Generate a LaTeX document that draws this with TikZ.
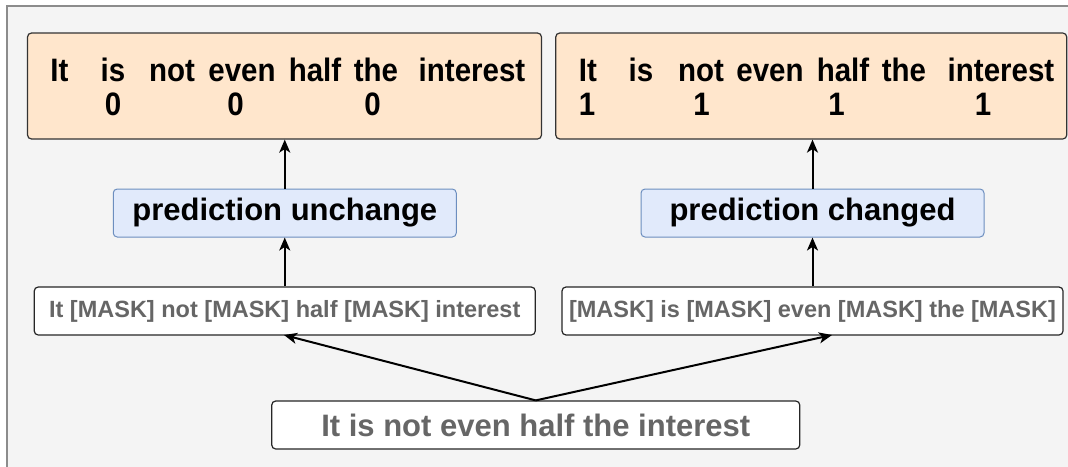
\documentclass[tikz,border=0pt]{standalone}
\usepackage{fontspec}
\setmainfont{Liberation Sans}
\usetikzlibrary{arrows.meta,calc}
\definecolor{bgfill}{HTML}{F4F4F4}
\definecolor{bgline}{HTML}{8C8C8C}
\definecolor{orfill}{HTML}{FFE6CC}
\definecolor{orline}{HTML}{333333}
\definecolor{blfill}{HTML}{E1EAFB}
\definecolor{blline}{HTML}{6C8EBF}
\definecolor{txgray}{HTML}{666666}
\tikzset{
  orbox/.style={draw=orline, fill=orfill, line width=1.2pt, rounded corners=4pt, minimum height=106pt, inner sep=0pt},
  blbox/.style={draw=blline, fill=blfill, line width=1pt, rounded corners=4pt, minimum width=343pt, minimum height=48pt, inner sep=0pt, font=\fontsize{31}{36}\selectfont\bfseries},
  mkbox/.style={draw=black!85, fill=white, line width=1.2pt, rounded corners=4pt, minimum width=501pt, minimum height=48pt, inner sep=0pt, text=txgray, font=\fontsize{23.5}{28}\selectfont\bfseries},
  btbox/.style={draw=black!85, fill=white, line width=1.2pt, rounded corners=4pt, minimum width=528pt, minimum height=48pt, inner sep=0pt, text=txgray, font=\fontsize{31}{36}\selectfont\bfseries},
  wd/.style={anchor=base, inner sep=0pt, transform shape, yscale=1.1, font=\fontsize{29.5}{34}\selectfont\bfseries},
  arr/.style={draw=black, line width=2pt, -{Stealth[length=13pt,width=11pt,inset=3.5pt]}}
}
\begin{document}
\begin{tikzpicture}[x=1pt,y=-1pt]
\useasboundingbox (0,0) rectangle (1068,466);
\fill[white] (0,0) rectangle (1068,466);
\path[fill=bgfill, draw=bgline, line width=1.5pt] (7,6) rectangle (1090,490);

% top boxes
\node[orbox, minimum width=514pt] (tl) at (284.5,86) {};
\node[orbox, minimum width=511pt] (tr) at (811.25,86) {};

% top-left words
\node[wd] (l1) at (59.5,81) {It};
\node[wd] (l2) at (113,81) {is};
\node[wd] (l3) at (172,81) {not};
\node[wd] (l4) at (242,81) {even};
\node[wd] (l5) at (315,81) {half};
\node[wd] (l6) at (376,81) {the};
\node[wd] (l7) at (472,81) {interest};
\node[wd] (l8) at (113,115.5) {0};
\node[wd] (l9) at (235.5,115.5) {0};
\node[wd] (l10) at (372.5,115.5) {0};

% top-right words
\node[wd] (r1) at (588,81) {It};
\node[wd] (r2) at (641,81) {is};
\node[wd] (r3) at (701,81) {not};
\node[wd] (r4) at (770,81) {even};
\node[wd] (r5) at (843,81) {half};
\node[wd] (r6) at (904,81) {the};
\node[wd] (r7) at (1001,81) {interest};
\node[wd] (r8) at (587,115.5) {1};
\node[wd] (r9) at (701.5,115.5) {1};
\node[wd] (r10) at (836.5,115.5) {1};
\node[wd] (r11) at (983,115.5) {1};

% prediction boxes
\node[blbox] (bl) at (284.75,213) {prediction unchange};
\node[blbox] (br) at (812.5,213) {prediction changed};

% masked boxes
\node[mkbox] (ml) at (284.75,311) {It [MASK] not [MASK] half [MASK] interest};
\node[mkbox] (mr) at (812.5,311) {[MASK] is [MASK] even [MASK] the [MASK]};

% bottom box
\node[btbox] (bt) at (535.75,425) {It is not even half the interest};

\coordinate (mltip) at (284,335);
\coordinate (mrtip) at (832,335);

% connectors
\draw[arr] (ml.north) -- (bl.south);
\draw[arr] (mr.north) -- (br.south);
\draw[arr] (bl.north) -- (bl.north |- tl.south);
\draw[arr] (br.north) -- (br.north |- tr.south);
\draw[arr] (bt.north) -- (mltip);
\draw[arr] (bt.north) -- (mrtip);
\end{tikzpicture}
\end{document}
